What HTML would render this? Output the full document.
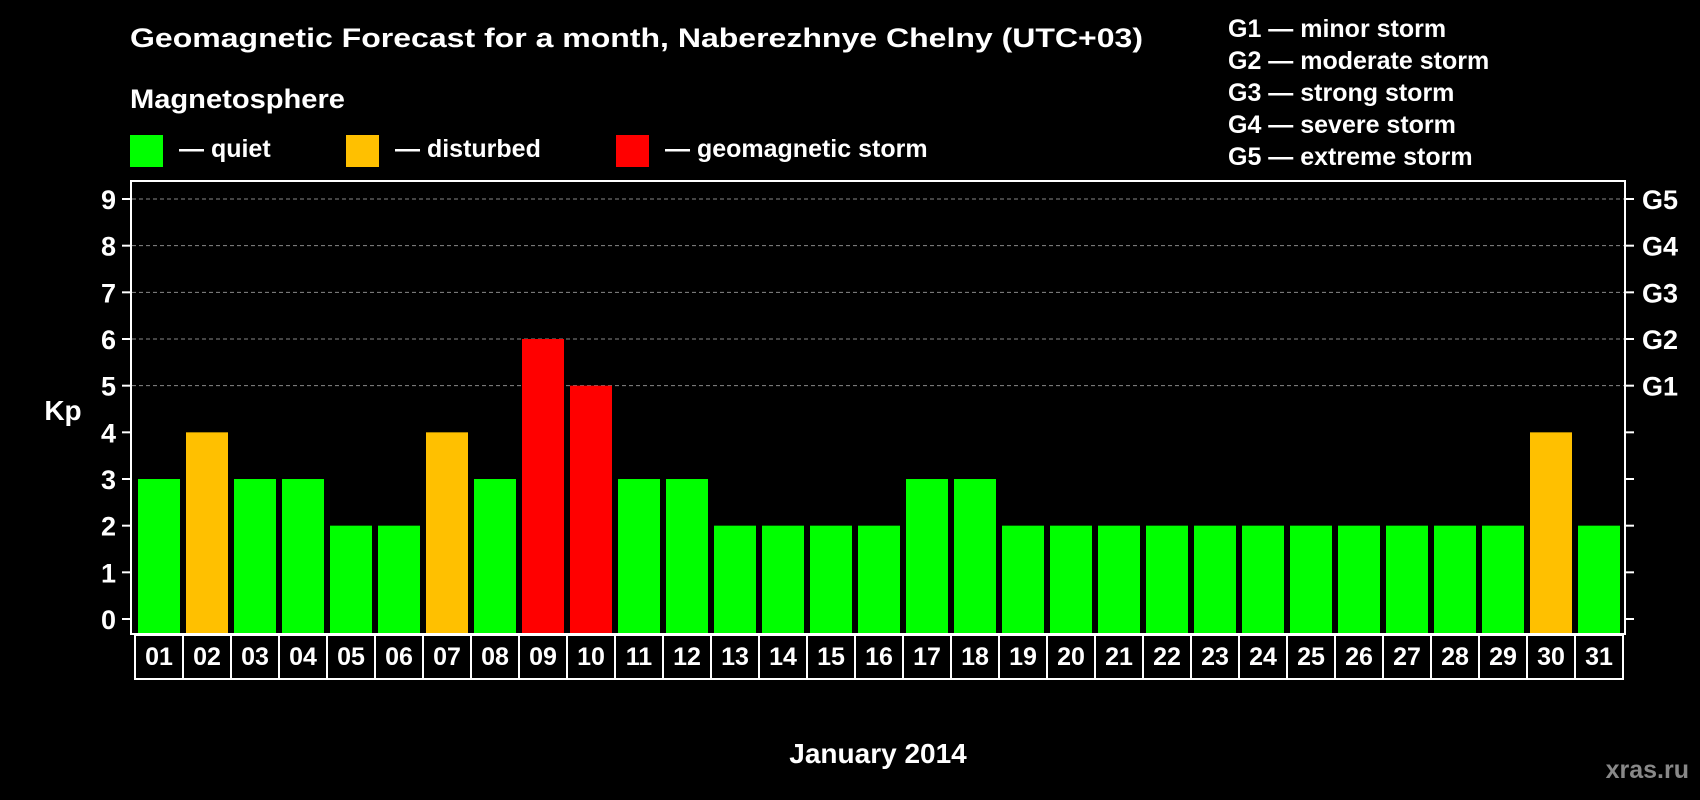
<!DOCTYPE html>
<html><head><meta charset="utf-8"><style>
html,body{margin:0;padding:0;background:#000;}
svg{display:block;font-family:"Liberation Sans",sans-serif;font-weight:bold;}
</style></head><body>
<svg id="chart" width="1700" height="800" viewBox="0 0 1700 800">
<rect width="1700" height="800" fill="#000"/>
<text x="130" y="47" font-size="27" fill="#fff" textLength="1013" lengthAdjust="spacingAndGlyphs">Geomagnetic Forecast for a month, Naberezhnye Chelny (UTC+03)</text>
<text x="130" y="108" font-size="27" fill="#fff" textLength="215" lengthAdjust="spacingAndGlyphs">Magnetosphere</text>
<g><rect x="130" y="135" width="33" height="32" fill="#00ff00"/><text x="179" y="157" font-size="25" fill="#fff">— quiet</text></g>
<g><rect x="346" y="135" width="33" height="32" fill="#ffc000"/><text x="395" y="157" font-size="25" fill="#fff">— disturbed</text></g>
<g><rect x="616" y="135" width="33" height="32" fill="#ff0000"/><text x="665" y="157" font-size="25" fill="#fff">— geomagnetic storm</text></g>
<g font-size="25" fill="#fff">
<text x="1228" y="37">G1 — minor storm</text>
<text x="1228" y="69">G2 — moderate storm</text>
<text x="1228" y="101">G3 — strong storm</text>
<text x="1228" y="133">G4 — severe storm</text>
<text x="1228" y="165">G5 — extreme storm</text>
</g>
<g id="grid"></g>
<g id="bars"></g>
<rect x="131" y="181" width="1494" height="453" fill="none" stroke="#fff" stroke-width="2"/>
<g id="yaxis"></g>
<g id="xaxis"></g>
<text x="63" y="420" font-size="28" fill="#fff" text-anchor="middle">Kp</text>
<text x="878" y="763" font-size="28" fill="#fff" text-anchor="middle">January 2014</text>
<text x="1689" y="778" font-size="25" fill="#888" text-anchor="end">xras.ru</text>
</svg>
<script>
const days = ["01","02","03","04","05","06","07","08","09","10","11","12","13","14","15","16","17","18","19","20","21","22","23","24","25","26","27","28","29","30","31"];
const kpValues = [3,4,3,3,2,2,4,3,6,5,3,3,2,2,2,2,3,3,2,2,2,2,2,2,2,2,2,2,2,4,2];
const yTicks = [0,1,2,3,4,5,6,7,8,9];
const gLevels = [5,6,7,8,9];
const gLabels = ["G1","G2","G3","G4","G5"];
const NS="http://www.w3.org/2000/svg";
const y0=619, unit=(619-199)/9, cellX0=135, cellW=48;
function yScale(v){return y0-v*unit;}
function xCell(i){return cellX0+i*cellW;}
function mk(tag,attrs,parent){const e=document.createElementNS(NS,tag);for(const k in attrs)e.setAttribute(k,attrs[k]);parent.appendChild(e);return e;}
function color(v){return v>=5?"#ff0000":(v>=4?"#ffc000":"#00ff00");}
const grid=document.getElementById('grid'),bars=document.getElementById('bars'),ya=document.getElementById('yaxis'),xa=document.getElementById('xaxis');
gLevels.forEach((lv,i)=>{
  const l=mk('line',{x1:132,x2:1624,y1:yScale(lv),y2:yScale(lv),stroke:'#888','stroke-width':1,'stroke-dasharray':'4,3'},grid);
  
  
  const t=mk('text',{x:1642,y:yScale(lv)+10,'font-size':27,fill:'#fff'},ya);
  t.textContent=gLabels[i];
  
  
});
yTicks.forEach(v=>{
  const y=yScale(v);
  const a=mk('line',{x1:122,x2:131,y1:y,y2:y,stroke:'#fff','stroke-width':2},ya);
  
  
  const b=mk('line',{x1:1625,x2:1634,y1:y,y2:y,stroke:'#fff','stroke-width':2},ya);
  
  
  const t=mk('text',{x:116,y:y+10,'font-size':27,fill:'#fff','text-anchor':'end'},ya);
  t.textContent=v;
  
  
});
kpValues.forEach((v,i)=>{
  const r=mk('rect',{x:xCell(i)+3,y:yScale(v),width:42,height:633-yScale(v),fill:color(v)},bars);
  
  
});
const box=mk('rect',{x:cellX0,y:635,width:cellW*days.length,height:44,fill:'none',stroke:'#fff','stroke-width':2},xa);


days.forEach((d,i)=>{
  if(i>0){const l=mk('line',{x1:xCell(i),x2:xCell(i),y1:635,y2:679,stroke:'#fff','stroke-width':2},xa);
  
  }
  const t=mk('text',{x:xCell(i)+cellW/2,y:665,'font-size':25,fill:'#fff','text-anchor':'middle'},xa);
  t.textContent=d;
  
  
});
</script>
</body></html>
